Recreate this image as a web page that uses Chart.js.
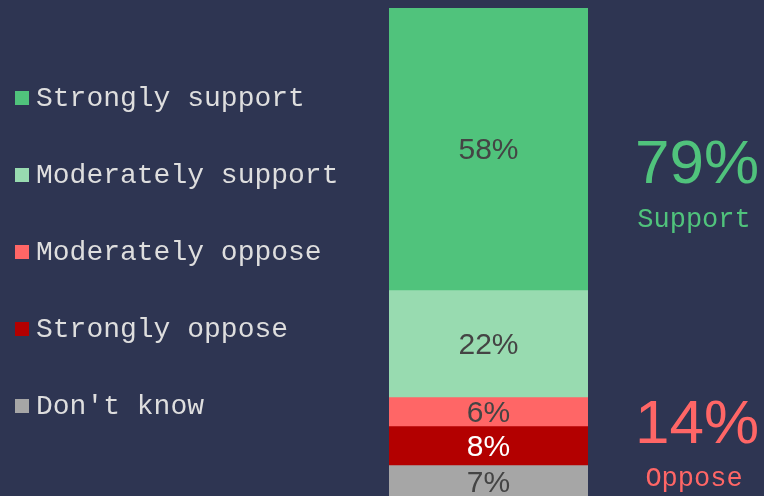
<!DOCTYPE html>
<html>
<head>
<meta charset="utf-8">
<script src="https://cdn.jsdelivr.net/npm/chart.js@4/dist/chart.umd.min.js"></script>
<style>
  html, body { margin: 0; padding: 0; background: #2e3552; }
  #wrap { width: 764px; height: 496px; position: relative; }
</style>
</head>
<body>
<div id="wrap"><canvas id="poll"></canvas></div>
<script>
// --- data ---
const categories = ["Strongly support", "Moderately support", "Moderately oppose", "Strongly oppose", "Don't know"];
const values = [58, 22, 6, 8, 7];
const colors = ["#50c37c", "#98dbb0", "#ff6666", "#b30000", "#a6a6a6"];
const labelColors = ["#444444", "#444444", "#444444", "#ffffff", "#444444"];
const summaryValues = [79, 14];
const summaryLabels = ["Support", "Oppose"];
const summaryColors = ["#50c37c", "#ff6666"];

const mono = "'Courier New', 'Liberation Mono', monospace";
const sans = "Arial, 'Liberation Sans', sans-serif";

// value labels inside each segment
const segmentLabels = {
  id: "segmentLabels",
  afterDatasetsDraw(chart) {
    const ctx = chart.ctx;
    ctx.save();
    ctx.font = "30px " + sans;
    ctx.textAlign = "center";
    ctx.textBaseline = "middle";
    chart.data.datasets.forEach((ds, i) => {
      const bar = chart.getDatasetMeta(i).data[0];
      ctx.fillStyle = labelColors[i];
      ctx.fillText(ds.data[0] + "%", bar.x, (bar.y + bar.base) / 2 + 2);
    });
    ctx.restore();
  }
};

// legend on the left and the summary figures on the right
const sideText = {
  id: "sideText",
  afterDraw(chart) {
    const ctx = chart.ctx;
    ctx.save();
    ctx.textBaseline = "middle";
    ctx.textAlign = "left";
    ctx.font = "28px " + mono;
    categories.forEach((c, i) => {
      const y = 98 + i * 77;
      ctx.fillStyle = colors[i];
      ctx.fillRect(15, y - 7, 14, 14);
      ctx.fillStyle = "#dedede";
      ctx.fillText(c, 36, y + 1);
    });

    ctx.textAlign = "center";
    const bigY = [166, 426];
    const smallY = [220, 479];
    summaryValues.forEach((v, i) => {
      ctx.fillStyle = summaryColors[i];
      ctx.font = "62px " + sans;
      ctx.fillText(v + "%", 697, bigY[i]);
      ctx.font = "27px " + mono;
      ctx.fillText(summaryLabels[i], 694, smallY[i]);
    });
    ctx.restore();
  }
};

new Chart(document.getElementById("poll"), {
  type: "bar",
  data: {
    labels: [""],
    datasets: categories.map((c, i) => ({
      label: c,
      data: [values[i]],
      backgroundColor: colors[i],
      borderWidth: 0,
      barPercentage: 1,
      categoryPercentage: 1
    }))
  },
  options: {
    responsive: true,
    maintainAspectRatio: false,
    animation: false,
    layout: { padding: { left: 389, right: 176, top: 8, bottom: 0 } },
    scales: {
      x: { stacked: true, display: false },
      y: { stacked: true, display: false, reverse: true, min: 0, max: 100.4 }
    },
    plugins: {
      legend: { display: false },
      tooltip: { enabled: false }
    }
  },
  plugins: [segmentLabels, sideText]
});
</script>
</body>
</html>
